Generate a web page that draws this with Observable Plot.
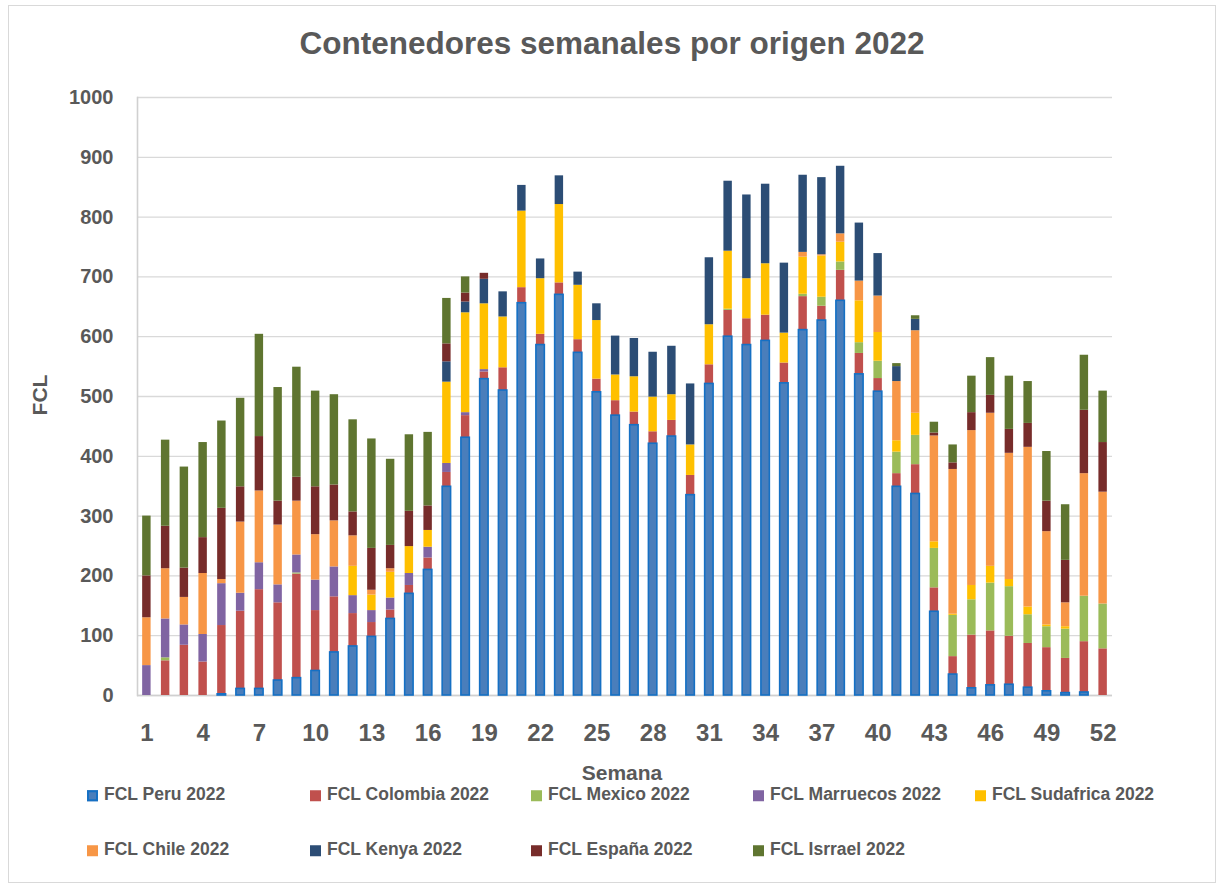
<!DOCTYPE html>
<html><head><meta charset="utf-8">
<script src="https://cdn.jsdelivr.net/npm/d3@7"></script>
<script src="https://cdn.jsdelivr.net/npm/@observablehq/plot@0.6"></script>
<style>
body{margin:0;background:#fff;font-family:"Liberation Sans",Arial,sans-serif;}
#wrap{position:relative;width:1222px;height:888px;overflow:hidden;background:#fff;}
#border{position:absolute;left:8px;top:5px;width:1206px;height:876px;border:1px solid #d9d9d9;}
#title{position:absolute;left:0;width:1224px;top:28px;text-align:center;font-size:31.5px;font-weight:bold;color:#595959;line-height:1;}
#chart{position:absolute;left:0;top:80px;}
#ylab{position:absolute;left:40px;top:395px;transform:translate(-50%,-50%) rotate(-90deg);font-size:21px;font-weight:bold;color:#595959;white-space:nowrap;}
#xlab{position:absolute;left:622px;top:773px;transform:translate(-50%,-50%);font-size:21px;font-weight:bold;color:#595959;}
.li{position:absolute;font-size:17.5px;font-weight:bold;color:#595959;white-space:nowrap;transform:translateY(-50%);line-height:1;}
.sw{display:inline-block;width:11px;height:11px;margin-right:6px;vertical-align:-1px;box-sizing:border-box;}
</style>
</head><body>
<div id="wrap">
  <div id="border"></div>
  <div id="title">Contenedores semanales por origen 2022</div>
  <div id="chart"></div>
  <div id="ylab">FCL</div>
  <div id="xlab">Semana</div>
  <div id="legend"></div>
</div>
<script>
const weeks = [1,2,3,4,5,6,7,8,9,10,11,12,13,14,15,16,17,18,19,20,21,22,23,24,25,26,27,28,29,30,31,32,33,34,35,36,37,38,39,40,41,42,43,44,45,46,47,48,49,50,51,52];
const tickWeeks = [1,4,7,10,13,16,19,22,25,28,31,34,37,40,43,46,49,52];
const yTicks = [0,100,200,300,400,500,600,700,800,900,1000];

const seriesNames = ["FCL Peru 2022","FCL Colombia 2022","FCL Mexico 2022","FCL Marruecos 2022","FCL Sudafrica 2022","FCL Chile 2022","FCL Kenya 2022","FCL España 2022","FCL Isrrael 2022"];
const seriesColors = ["#4A7EBB","#C0504D","#9BBB59","#8064A2","#FFC000","#F79646","#2C4D75","#772C2A","#5F7530"];

const peru      = [0,0,0,0,2,11,11,25,29,41,72,82,98,128,170,210,349,431,529,510,656,586,670,573,507,468,452,421,433,335,521,600,586,593,522,611,627,660,537,508,349,337,140,35,12,17,18,13,7,4,5,0];
const colombia  = [0,58,84,56,115,130,166,130,174,101,93,55,24,15,14,20,24,37,12,38,26,18,20,22,22,25,22,20,27,33,32,44,44,43,34,56,24,51,35,22,22,49,40,30,89,91,81,74,73,58,85,78];
const mexico    = [0,5,0,0,0,0,0,0,2,0,0,0,0,0,0,0,0,0,0,0,0,0,0,0,0,0,0,0,0,0,0,2,0,0,0,4,15,14,18,29,36,49,66,69,59,80,83,48,35,49,76,75];
const marruecos = [50,65,34,46,70,30,45,30,30,51,50,30,20,20,20,18,15,5,4,0,0,0,0,0,0,0,0,0,0,0,0,0,0,0,0,0,0,0,0,0,0,0,0,0,0,0,0,0,0,0,0,0];
const sudafrica = [0,0,0,0,0,0,0,0,0,0,0,49,26,43,45,28,136,167,110,85,128,93,131,91,98,43,59,58,43,51,67,97,67,86,50,62,69,33,70,48,19,37,11,2,24,28,12,13,3,4,0,0];
const chile     = [80,84,46,102,7,119,120,100,90,76,77,51,8,6,0,0,0,0,0,0,0,0,0,0,0,0,0,0,0,0,0,0,0,0,0,8,2,14,33,61,99,138,177,242,259,256,211,267,156,40,205,187];
const kenya     = [0,0,0,0,0,0,0,0,0,0,0,0,0,0,0,0,34,18,41,42,43,33,48,22,28,65,64,75,81,102,112,117,140,133,117,129,129,113,97,71,25,19,0,0,0,0,0,0,0,0,0,0];
const espana    = [70,71,49,60,119,59,91,40,40,80,60,40,70,39,59,41,30,15,10,0,0,0,0,0,0,0,0,0,0,0,0,0,0,0,0,0,0,0,0,0,0,0,5,11,30,30,40,40,51,71,106,83];
const israel    = [100,144,169,159,146,148,171,190,184,160,151,154,183,144,128,123,76,27,0,0,0,0,0,0,0,0,0,0,0,0,0,0,0,0,0,0,0,0,0,0,5,6,18,30,61,63,89,70,83,93,92,86];

const seriesValues = [peru, colombia, mexico, marruecos, sudafrica, chile, kenya, espana, israel];

const table = [];
weeks.forEach((w, i) => {
  seriesNames.forEach((s, j) => {
    table.push({week: w, series: s, value: seriesValues[j][i]});
  });
});
const peruRows = table.filter(d => d.series === seriesNames[0]);

const chart = Plot.plot({
  width: 1222,
  height: 700,
  marginLeft: 137,
  marginRight: 110,
  marginTop: 17,
  marginBottom: 85,
  style: {fontFamily: "Liberation Sans, Arial, sans-serif", fontWeight: "bold", color: "#595959", background: "transparent"},
  x: {type: "band", domain: weeks, paddingInner: 0.55, paddingOuter: 0.275, align: 0.5},
  y: {domain: [0, 1000]},
  color: {domain: seriesNames, range: seriesColors},
  marks: [
    Plot.gridY(yTicks, {stroke: "#d9d9d9", strokeOpacity: 1, strokeWidth: 1.3}),
    Plot.ruleY([0], {stroke: "#d0d0d0", strokeWidth: 1.6}),
    Plot.frame({anchor: "left", stroke: "#d0d0d0", strokeWidth: 1.6}),
    Plot.barY(table, {x: "week", y: "value", fill: "series"}),
    Plot.barY(peruRows, {x: "week", y: "value", fill: seriesColors[0], stroke: "#1570C4", strokeWidth: 1.6}),
    Plot.axisY(yTicks, {tickSize: 0, tickPadding: 24, fontSize: 20, fontWeight: "bold", color: "#595959", label: null, tickFormat: d => String(d)}),
    Plot.axisX(tickWeeks, {tickSize: 0, tickPadding: 28, fontSize: 24, fontWeight: "bold", color: "#595959", label: null, tickFormat: d => String(d)})
  ]
});
document.getElementById("chart").appendChild(chart);

// legend
const colX = [87, 310, 531, 753, 975];
const rowY = [795, 850];
const legend = document.getElementById("legend");
seriesNames.forEach((s, i) => {
  const el = document.createElement("div");
  el.className = "li";
  el.style.left = colX[i % 5] + "px";
  el.style.top = rowY[Math.floor(i / 5)] + "px";
  const sw = document.createElement("span");
  sw.className = "sw";
  sw.style.background = seriesColors[i];
  if (i === 0) sw.style.border = "2px solid #1570C4";
  el.appendChild(sw);
  el.appendChild(document.createTextNode(s));
  legend.appendChild(el);
});
</script>
</body></html>
